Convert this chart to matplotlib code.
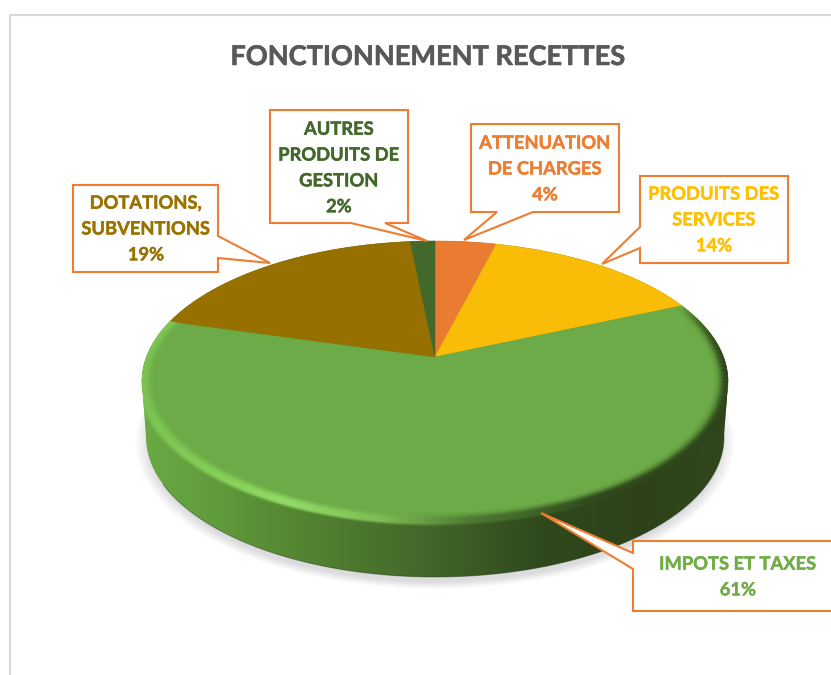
import matplotlib
matplotlib.use("Agg")
import matplotlib.pyplot as plt
import matplotlib.patheffects as pe
import matplotlib.transforms as mtransforms
import numpy as np
from matplotlib.collections import LineCollection
from matplotlib.colors import to_rgb
from matplotlib.patches import Polygon

labels = ["ATTENUATION\nDE CHARGES", "PRODUITS DES\nSERVICES", "IMPOTS ET TAXES",
          "DOTATIONS,\nSUBVENTIONS", "AUTRES\nPRODUITS DE\nGESTION"]
shares = [4, 14.4, 61, 19, 1.6]
slice_colors = ["#E97C30", "#F9BD08", "#6CAB47", "#967000", "#43682B"]
text_colors = ["#ED7D31", "#FFC000", "#70AD47", "#997300", "#43682B"]

# callout outlines in pixels, same order as labels
callouts = [
    [(471, 124), (619, 124), (619, 212), (533, 212), (464, 240), (497, 212), (471, 212)],
    [(640, 176), (788, 176), (788, 263), (640, 263), (640, 248), (602, 264), (640, 227)],
    [(633, 541), (840, 541), (840, 611), (633, 611), (633, 569), (541, 513), (633, 553)],
    [(73, 185), (218, 185), (218, 236), (270, 263), (218, 258), (218, 272), (73, 272)],
    [(270, 110), (408, 110), (408, 223), (385, 223), (427, 241), (351, 223), (270, 223)],
]
label_centers = [(545, 169), (714, 220), (738, 577), (146, 229), (339, 168)]

# perspective of the pie top, in pixels
CX, CY = 435, 357
R, A, K = 288.6, 136.2, 0.174


def tilt(x, y):
    d = 1 + K * y
    return CX + R * x / d, CY - A * y / d


class TiltTransform(mtransforms.Transform):
    input_dims = 2
    output_dims = 2

    def transform_non_affine(self, values):
        px, py = tilt(values[:, 0], values[:, 1])
        return np.column_stack([px, py])


fig = plt.figure(figsize=(8.31, 6.75), dpi=100)
ax = fig.add_axes([0, 0, 1, 1])
plt.rcParams["font.family"] = ["Lato", "DejaVu Sans"]

wedges, _ = ax.pie(shares, colors=slice_colors, startangle=90, counterclock=False,
                   wedgeprops={"linewidth": 0.4})
tilted = TiltTransform() + ax.transData
for w, c in zip(wedges, slice_colors):
    w.set_transform(tilted)
    w.set_edgecolor(c)
    w.set_zorder(4)

ax.set_aspect("auto")
ax.set_xlim(0, 831)
ax.set_ylim(675, 0)
ax.axis("off")

# chart frame
ax.plot([10, 10, 831], [675, 15, 15], color="#D9D9D9", lw=1.5, zorder=1)

# soft shadow under the pie
xx, yy = np.meshgrid(np.arange(831) + 0.5, np.arange(675) + 0.5)
rho = np.hypot((xx - 435) / 300, (yy - 443) / 146)
shadow = np.zeros((675, 831, 4))
shadow[..., :3] = to_rgb("#D4D4D8")
shadow[..., 3] = np.clip((1.0 - rho) / 0.05, 0, 1) * 0.8
ax.imshow(shadow, extent=(0, 831, 675, 0), aspect="auto", zorder=2)

# side wall, shaded from left to right
widest = np.arcsin(K)
t_up = np.linspace(-widest, np.pi + widest, 361)
rim_x, rim_y = tilt(np.cos(t_up), np.sin(t_up))
t_low = np.linspace(np.pi, 2 * np.pi, 361)
wall_x = 435 + 289 * np.cos(t_low)
wall_y = 437 - 140 * np.sin(t_low)
silhouette = np.vstack([np.column_stack([rim_x, rim_y]), np.column_stack([wall_x, wall_y])])
wall_stops = [141, 220, 300, 420, 540, 640, 728]
wall_cols = np.array([to_rgb(c) for c in
                      ["#6BAA45", "#5F9A3B", "#548532", "#44682A", "#2F491C", "#2D421A", "#30471C"]])
strip = np.stack([np.interp(np.arange(831), wall_stops, wall_cols[:, i]) for i in range(3)], axis=-1)
wall_img = ax.imshow(strip[np.newaxis, :, :], extent=(0, 831, 675, 0), aspect="auto", zorder=3)
wall_img.set_clip_path(Polygon(silhouette, closed=True, transform=ax.transData))
ax.plot(wall_x[40:], wall_y[40:], color="#1F3010", lw=0.8, alpha=0.4, zorder=3)

# bevel along the rim of the large slice
start = np.radians(90 - 3.6 * sum(shares[:2]))
stop = np.radians(90 - 3.6 * sum(shares[:3]))
theta = np.linspace(start, stop, 400)
fade = np.clip((start - theta) / np.radians(25), 0, 1)
rim_stops = [141, 220, 290, 380, 470, 600, 728]
rim_cols = np.array([to_rgb(c) for c in
                     ["#7CC453", "#86D05A", "#92DC66", "#7FBE55", "#4E7A33", "#2F481C", "#2E451B"]])
for s in np.linspace(0.955, 1.02, 22):
    x, y = tilt(s * np.cos(theta), s * np.sin(theta))
    pts = np.column_stack([x, y]).reshape(-1, 1, 2)
    segs = np.concatenate([pts[:-1], pts[1:]], axis=1)
    mid = (x[:-1] + x[1:]) / 2
    rgba = np.zeros((len(mid), 4))
    for i in range(3):
        rgba[:, i] = np.interp(mid, rim_stops, rim_cols[:, i])
    width = 0.022 if s < 1 else 0.012
    rgba[:, 3] = np.exp(-((s - 1.0) / width) ** 2) * fade[:-1]
    lines = LineCollection(segs, colors=rgba, linewidths=1.3, zorder=5, capstyle="butt")
    ax.add_collection(lines)
    lines.set_clip_path(Polygon(silhouette, closed=True, transform=ax.transData))

# callouts
for shape, center, name, share, color in zip(callouts, label_centers, labels, shares, text_colors):
    ax.add_patch(Polygon(shape, closed=True, facecolor="white", edgecolor="#ED7D31",
                         lw=1.5, joinstyle="miter", zorder=6))
    ax.text(center[0], center[1], f"{name}\n{round(share)}%", color=color, fontsize=13.2,
            fontweight="bold", ha="center", va="center", linespacing=1.63, zorder=7,
            path_effects=[pe.withStroke(linewidth=0.3, foreground=color)])

ax.text(427, 57, "FONCTIONNEMENT RECETTES", color="#595959", fontsize=19.55, fontweight="bold",
        ha="center", va="center", zorder=7,
        path_effects=[pe.withStroke(linewidth=0.4, foreground="#595959")])

fig.savefig("out.png", dpi=100)
